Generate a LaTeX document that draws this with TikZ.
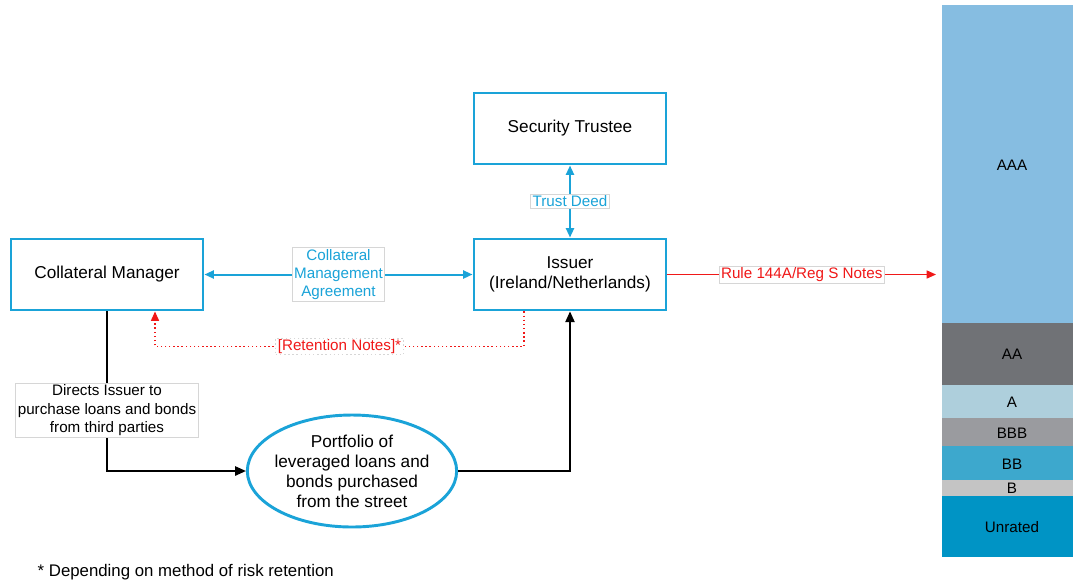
\documentclass[tikz,border=0pt]{standalone}
\usepackage{fontspec}
\setmainfont{Liberation Sans}
\usetikzlibrary{positioning,arrows.meta,shapes.geometric}
\definecolor{sky}{HTML}{1AA3D8}
\definecolor{notered}{HTML}{F01818}
\definecolor{labelline}{HTML}{D6D6D6}
\definecolor{aaa}{HTML}{86BDE1}
\definecolor{aa}{HTML}{707276}
\definecolor{singlea}{HTML}{AECFDC}
\definecolor{bbb}{HTML}{9A9B9F}
\definecolor{bb}{HTML}{3DA8CD}
\definecolor{singleb}{HTML}{C4C4C4}
\definecolor{unrated}{HTML}{0094C5}
\tikzset{
  partybox/.style={draw=sky, line width=2.2pt, fill=white, align=center, minimum width=144pt, minimum height=53.25pt, inner sep=2pt, font=\fontsize{12.9}{15}\selectfont},
  poolnode/.style={ellipse, draw=sky, line width=2.2pt, fill=white, align=center, minimum width=157pt, minimum height=84pt, inner xsep=-7pt, inner ysep=-8pt, font=\fontsize{12.9}{15}\selectfont},
  tag/.style={draw=labelline, line width=0.6pt, fill=white, align=center, inner xsep=1.5pt, inner ysep=1pt, font=\fontsize{11.4}{13.8}\selectfont},
  bandtext/.style={font=\fontsize{11.4}{13.8}\selectfont},
  deedarrow/.style={{Triangle[length=7pt,width=6pt]}-{Triangle[length=7pt,width=6pt]}, line width=1.5pt, draw=sky},
  flowarrow/.style={-{Triangle[length=8pt,width=7pt]}, line width=1pt, draw=black},
  notesarrow/.style={-{Triangle[length=7pt,width=6pt]}, line width=1.1pt, draw=notered},
  retainarrow/.style={-{Triangle[length=7pt,width=6pt]}, line width=1.1pt, dotted, draw=notered}
}
\begin{document}
\begin{tikzpicture}[x=0.75pt, y=-0.75pt]
  \useasboundingbox (0,0) rectangle (1073,583);
  % parties
  \node[partybox] (trustee) at (570,128.5) {Security Trustee};
  \node[partybox] (issuer) at (570,274.5) {Issuer\\(Ireland/Netherlands)};
  \node[partybox] (manager) at (107,274.5) {Collateral Manager};
  \node[poolnode] (portfolio) at (352,471) {Portfolio of\\leveraged loans and\\bonds purchased\\from the street};
  % tranches
  \fill[aaa] (942,5) rectangle (1073,323);
  \fill[aa] (942,323) rectangle (1073,385);
  \fill[singlea] (942,385) rectangle (1073,418);
  \fill[bbb] (942,418) rectangle (1073,446);
  \fill[bb] (942,446) rectangle (1073,480);
  \fill[singleb] (942,480) rectangle (1073,496);
  \fill[unrated] (942,496) rectangle (1073,557);
  \node[bandtext] (aaatext) at (1012,165) {AAA};
  \node[bandtext] (aatext) at (1012,354) {AA};
  \node[bandtext] (atext) at (1012,402) {A};
  \node[bandtext] (bbbtext) at (1012,433) {BBB};
  \node[bandtext] (bbtext) at (1012,464) {BB};
  \node[bandtext] (btext) at (1012,488) {B};
  \node[bandtext] (unratedtext) at (1012,527) {Unrated};
  \coordinate (stack) at (936,274.5);
  % connectors
  \draw[deedarrow] (manager) -- (issuer) node[tag, midway, text=sky] {Collateral\\Management\\Agreement};
  \draw[deedarrow] (issuer) -- (trustee) node[tag, midway, text=sky] {Trust Deed};
  \draw[notesarrow] (issuer) -- (stack) node[tag, midway, text=notered] {Rule 144A/Reg S Notes};
  \draw[retainarrow] ([xshift=-34.5pt]issuer.south) -- ++(0,35) -| ([xshift=36pt]manager.south) node[tag, pos=0.25, text=notered] {[Retention Notes]*};
  \draw[flowarrow] (manager.south) |- (portfolio.west) node[tag, pos=0.31] {Directs Issuer to\\purchase loans and bonds\\from third parties};
  \draw[flowarrow] (portfolio.east) -| (issuer.south);
  \node[anchor=west, font=\fontsize{12.6}{14}\selectfont] (footnote) at (33,572) {* Depending on method of risk retention};
\end{tikzpicture}
\end{document}
